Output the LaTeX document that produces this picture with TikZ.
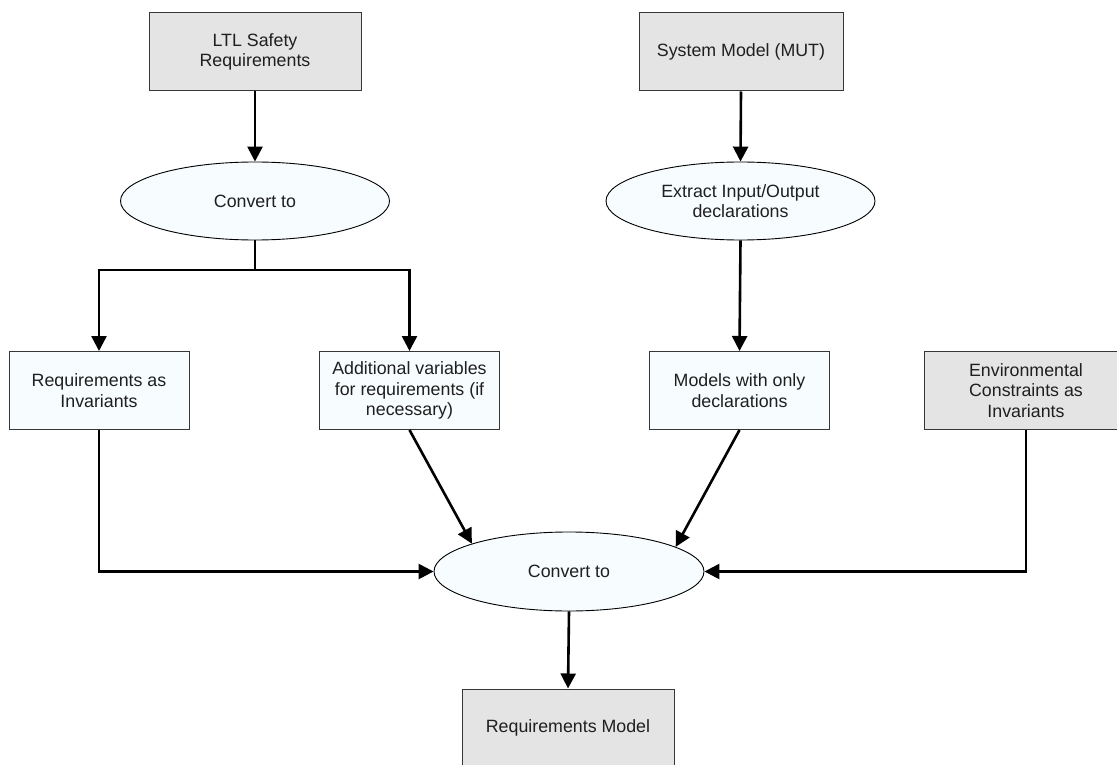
\documentclass[tikz,border=0pt]{standalone}
\usepackage{fontspec}
\setmainfont{Liberation Sans}
\usetikzlibrary{shapes.geometric,arrows.meta}
\definecolor{boxgray}{RGB}{228,228,228}
\definecolor{paleblue}{RGB}{247,252,254}
\definecolor{edgegray}{RGB}{55,55,55}
\begin{document}
\begin{tikzpicture}[x=1pt,y=-1pt,
  every node/.style={font=\fontsize{17.8}{20.5}\selectfont, text=black!88, align=center, inner sep=0pt},
  graybox/.style={draw=edgegray, line width=1pt, fill=boxgray, rectangle, minimum height=78pt},
  palebox/.style={draw=edgegray, line width=1pt, fill=paleblue, rectangle, minimum width=180pt, minimum height=78pt},
  oval/.style={draw=black, line width=0.9pt, fill=paleblue, ellipse, minimum width=269pt, minimum height=78pt},
  conn/.style={line width=2.6pt, -{Triangle[length=15pt,width=15pt]}}
]
\useasboundingbox (0,0) rectangle (1117,765);
\clip (0,0) rectangle (1117,765);

% sources
\node[graybox, minimum width=212pt] (ltl) at (255,52) {LTL Safety\\Requirements};
\node[graybox, minimum width=204pt] (sys) at (741,52) {System Model (MUT)};

% first processing steps
\node[oval] (conv1) at (255,201) {Convert to};
\node[oval] (extr) at (740.5,201) {Extract Input/Output\\declarations};

% intermediate artefacts
\node[palebox] (reqinv) at (99,390.5) {Requirements as\\Invariants};
\node[palebox] (addvar) at (409.5,390.5) {Additional variables\\for requirements (if\\necessary)};
\node[palebox] (models) at (739.5,390.5) {Models with only\\declarations};
\node[graybox, minimum width=204pt] (env) at (1026,390.5) {Environmental\\Constraints as\\Invariants};

% final conversion and result
\node[oval, minimum width=270pt, minimum height=79pt] (conv2) at (569,571.5) {Convert to};
\node[graybox, minimum width=212pt] (reqmod) at (568,728) {Requirements Model};

\coordinate (split) at (255,270);

\draw[conn] (ltl.south) -- (conv1.north);
\draw[conn] (sys.south) -- (extr.north);
\draw[conn] (conv1.south) -- (split) -| (reqinv.north);
\draw[conn] (split) -| (addvar.north);
\draw[conn] (extr.south) -- (models.north);
\draw[conn] (reqinv.south) |- (conv2.west);
\draw[conn] (env.south) |- (conv2.east);
\draw[conn] (addvar.south) -- (conv2.164);
\draw[conn] (models.south) -- (conv2.13.5);
\draw[conn] (conv2.south) -- (reqmod.north);
\end{tikzpicture}
\end{document}
